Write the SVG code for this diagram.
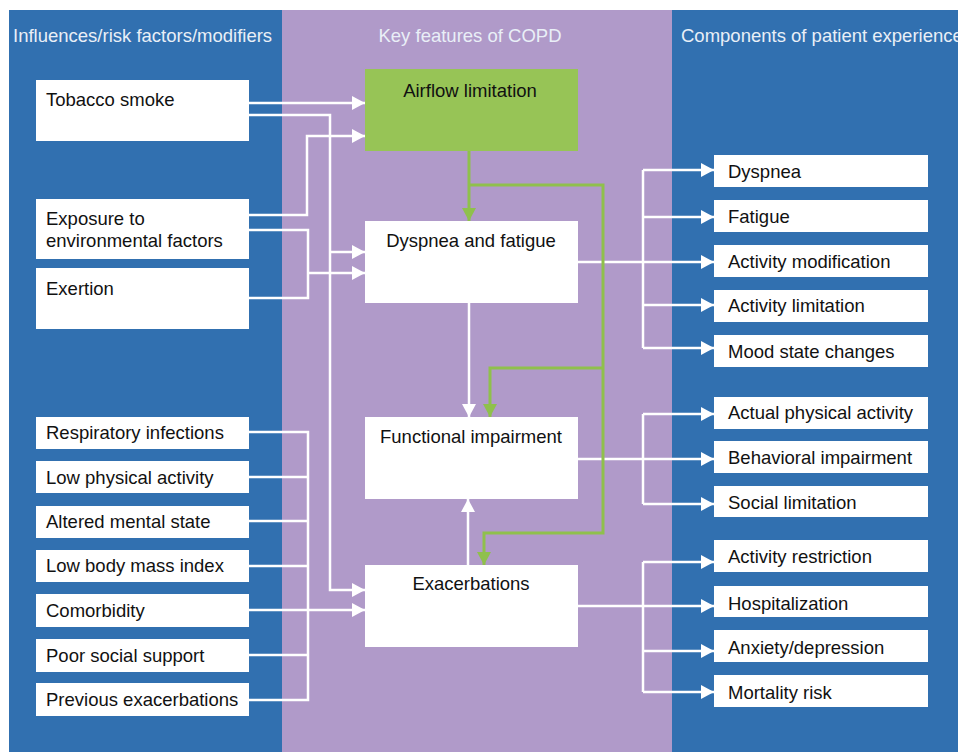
<svg xmlns="http://www.w3.org/2000/svg" width="958" height="752" viewBox="0 0 958 752">
<defs>
<style>
.bg{fill:#ffffff}
.blue{fill:#3170b0}
.purple{fill:#b09ac9}
.hdr{font-family:"Liberation Sans",Arial,sans-serif;font-size:18.5px;fill:#e9eff7}
.box{fill:#ffffff}
.green{fill:#97c456}
.t{font-family:"Liberation Sans",Arial,sans-serif;font-size:18.5px;fill:#111111}
.w{fill:none;stroke:#ffffff;stroke-width:2.5}
.g{fill:none;stroke:#8fc04c;stroke-width:3}
</style>
<marker id="aw" markerUnits="userSpaceOnUse" markerWidth="13" markerHeight="14" refX="13" refY="7" orient="auto" viewBox="0 0 13 14">
<path d="M0,0 L13,7 L0,14 z" fill="#ffffff"/>
</marker>
<marker id="ag" markerUnits="userSpaceOnUse" markerWidth="13" markerHeight="14" refX="13" refY="7" orient="auto" viewBox="0 0 13 14">
<path d="M0,0 L13,7 L0,14 z" fill="#8fc04c"/>
</marker>
</defs>
<rect class="bg" x="0" y="0" width="958" height="752"/>
<g id="panels">
<rect class="blue" x="9" y="10" width="273" height="742"/>
<rect class="purple" x="282" y="10" width="390" height="742"/>
<rect class="blue" x="672" y="10" width="286" height="742"/>
<text class="hdr" x="13" y="42">Influences/risk factors/modifiers</text>
<text class="hdr" x="470" y="42" text-anchor="middle">Key features of COPD</text>
<text class="hdr" x="681" y="42">Components of patient experience</text>
</g>
<g id="connectors">
<path class="w" d="M249,103 H365" marker-end="url(#aw)"/>
<path class="w" d="M249,115 H330 V590 H365" marker-end="url(#aw)"/>
<path class="w" d="M330,252 H365" marker-end="url(#aw)"/>
<path class="w" d="M249,215 H307 V136 H365" marker-end="url(#aw)"/>
<path class="w" d="M249,230 H308 V298 H249"/>
<path class="w" d="M308,273 H365" marker-end="url(#aw)"/>
<path class="w" d="M249,432 H308 V700 H249"/>
<path class="w" d="M249,477 H308"/>
<path class="w" d="M249,521 H308"/>
<path class="w" d="M249,566 H308"/>
<path class="w" d="M249,655 H308"/>
<path class="w" d="M249,610 H365" marker-end="url(#aw)"/>
<path class="w" d="M469,303 V417" marker-end="url(#aw)"/>
<path class="w" d="M468,565 V499" marker-end="url(#aw)"/>
<path class="w" d="M578,262 H714" marker-end="url(#aw)"/>
<path class="w" d="M643,348 V170"/>
<path class="w" d="M643,170 H714" marker-end="url(#aw)"/>
<path class="w" d="M643,217 H714" marker-end="url(#aw)"/>
<path class="w" d="M643,305 H714" marker-end="url(#aw)"/>
<path class="w" d="M643,348 H714" marker-end="url(#aw)"/>
<path class="w" d="M578,459 H714" marker-end="url(#aw)"/>
<path class="w" d="M643,504 V414"/>
<path class="w" d="M643,414 H714" marker-end="url(#aw)"/>
<path class="w" d="M643,504 H714" marker-end="url(#aw)"/>
<path class="w" d="M578,606 H714" marker-end="url(#aw)"/>
<path class="w" d="M643,692 V562"/>
<path class="w" d="M643,562 H714" marker-end="url(#aw)"/>
<path class="w" d="M643,651 H714" marker-end="url(#aw)"/>
<path class="w" d="M643,692 H714" marker-end="url(#aw)"/>
<path class="g" d="M469,151 V221" marker-end="url(#ag)"/>
<path class="g" d="M469,185 H603 V533 H484 V565" marker-end="url(#ag)"/>
<path class="g" d="M603,368 H490 V417" marker-end="url(#ag)"/>
</g>
<g id="n-tobacco"><rect class="box" x="36" y="80" width="213" height="61"/><text class="t" x="46" y="106">Tobacco smoke</text></g>
<g id="n-exposure"><rect class="box" x="36" y="199" width="213" height="60"/><text class="t" x="46" y="225">Exposure to</text><text class="t" x="46" y="247">environmental factors</text></g>
<g id="n-exertion"><rect class="box" x="36" y="268" width="213" height="61"/><text class="t" x="46" y="295">Exertion</text></g>
<g id="n-resp"><rect class="box" x="36" y="417" width="213" height="32"/><text class="t" x="46" y="439">Respiratory infections</text></g>
<g id="n-lowpa"><rect class="box" x="36" y="461" width="213" height="32"/><text class="t" x="46" y="484">Low physical activity</text></g>
<g id="n-mental"><rect class="box" x="36" y="506" width="213" height="32"/><text class="t" x="46" y="528">Altered mental state</text></g>
<g id="n-bmi"><rect class="box" x="36" y="550" width="213" height="32"/><text class="t" x="46" y="572">Low body mass index</text></g>
<g id="n-comorb"><rect class="box" x="36" y="594" width="213" height="33"/><text class="t" x="46" y="617">Comorbidity</text></g>
<g id="n-social"><rect class="box" x="36" y="639" width="213" height="33"/><text class="t" x="46" y="662">Poor social support</text></g>
<g id="n-prev"><rect class="box" x="36" y="683" width="213" height="33"/><text class="t" x="46" y="706">Previous exacerbations</text></g>
<g id="n-airflow"><rect class="green" x="365" y="69" width="213" height="82"/><text class="t" x="470" y="97" text-anchor="middle">Airflow limitation</text></g>
<g id="n-dysfat"><rect class="box" x="365" y="221" width="213" height="82"/><text class="t" x="471" y="247" text-anchor="middle">Dyspnea and fatigue</text></g>
<g id="n-functional"><rect class="box" x="365" y="417" width="213" height="82"/><text class="t" x="471" y="443" text-anchor="middle">Functional impairment</text></g>
<g id="n-exac"><rect class="box" x="365" y="565" width="213" height="82"/><text class="t" x="471" y="590" text-anchor="middle">Exacerbations</text></g>
<g id="n-dyspnea"><rect class="box" x="714" y="155" width="214" height="32"/><text class="t" x="728" y="178">Dyspnea</text></g>
<g id="n-fatigue"><rect class="box" x="714" y="200" width="214" height="32"/><text class="t" x="728" y="223">Fatigue</text></g>
<g id="n-actmod"><rect class="box" x="714" y="245" width="214" height="32"/><text class="t" x="728" y="268">Activity modification</text></g>
<g id="n-actlim"><rect class="box" x="714" y="290" width="214" height="32"/><text class="t" x="728" y="312">Activity limitation</text></g>
<g id="n-mood"><rect class="box" x="714" y="335" width="214" height="32"/><text class="t" x="728" y="358">Mood state changes</text></g>
<g id="n-actual"><rect class="box" x="714" y="397" width="214" height="32"/><text class="t" x="728" y="419">Actual physical activity</text></g>
<g id="n-behav"><rect class="box" x="714" y="441" width="214" height="32"/><text class="t" x="728" y="464">Behavioral impairment</text></g>
<g id="n-soclim"><rect class="box" x="714" y="486" width="214" height="31"/><text class="t" x="728" y="509">Social limitation</text></g>
<g id="n-actres"><rect class="box" x="714" y="540" width="214" height="32"/><text class="t" x="728" y="563">Activity restriction</text></g>
<g id="n-hosp"><rect class="box" x="714" y="586" width="214" height="31"/><text class="t" x="728" y="610">Hospitalization</text></g>
<g id="n-anx"><rect class="box" x="714" y="630" width="214" height="32"/><text class="t" x="728" y="654">Anxiety/depression</text></g>
<g id="n-mort"><rect class="box" x="714" y="675" width="214" height="32"/><text class="t" x="728" y="699">Mortality risk</text></g>
</svg>
